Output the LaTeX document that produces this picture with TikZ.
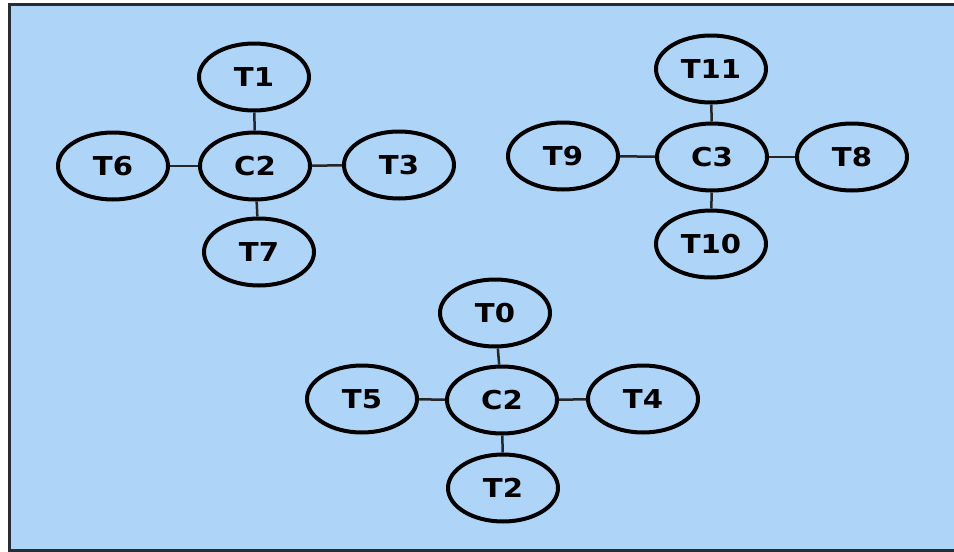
\documentclass[tikz,border=0pt]{standalone}
\usepackage{fontspec}
\setmainfont{DejaVu Sans}[FakeStretch=1.12]
\usepackage{xcolor}
\usepackage{tikz}
\usetikzlibrary{shapes.geometric}
\definecolor{bgblue}{RGB}{174,212,248}
\definecolor{edgegray}{RGB}{40,44,52}
\tikzstyle{task} = [ellipse, 
minimum width=110pt, 
minimum height=67pt, 
inner sep=0pt, 
line width=4pt, 
draw=black, 
font=\fontsize{26}{26}\selectfont\bfseries]
\tikzstyle{link} = [line width=2.5pt, draw=black!85]

\begin{document}
\begin{tikzpicture}[x=1pt, y=-1pt]
			\useasboundingbox (0,0) rectangle (954,552);
			\fill [white] (0,0) rectangle (954,552);
			\draw [fill=bgblue, draw=edgegray, line width=3pt] (9.5,4) rectangle (962,550.5);
			
			\node (c2a)[task] at (255,166) {C2};
			\node (t1)[task] at (254,77) {T1};
			\node (t6)[task] at (113,166) {T6};
			\node (t3)[task] at (399,165) {T3};
			\node (t7)[task] at (259,252) {T7};
			\draw [link] (c2a) -- (t1);
			\draw [link] (c2a) -- (t6);
			\draw [link] (c2a) -- (t3);
			\draw [link] (c2a) -- (t7);
			
			\node (c3)[task] at (712,157) {C3};
			\node (t11)[task] at (711,69) {T11};
			\node (t9)[task] at (563,156) {T9};
			\node (t8)[task] at (852,157) {T8};
			\node (t10)[task] at (711,244) {T10};
			\draw [link] (c3) -- (t11);
			\draw [link] (c3) -- (t9);
			\draw [link] (c3) -- (t8);
			\draw [link] (c3) -- (t10);
			
			\node (c2b)[task] at (502,400) {C2};
			\node (t0)[task] at (495,313) {T0};
			\node (t5)[task] at (362,399) {T5};
			\node (t4)[task] at (643,399) {T4};
			\node (t2)[task] at (503,488) {T2};
			\draw [link] (c2b) -- (t0);
			\draw [link] (c2b) -- (t5);
			\draw [link] (c2b) -- (t4);
			\draw [link] (c2b) -- (t2);
		\end{tikzpicture}
\end{document}
